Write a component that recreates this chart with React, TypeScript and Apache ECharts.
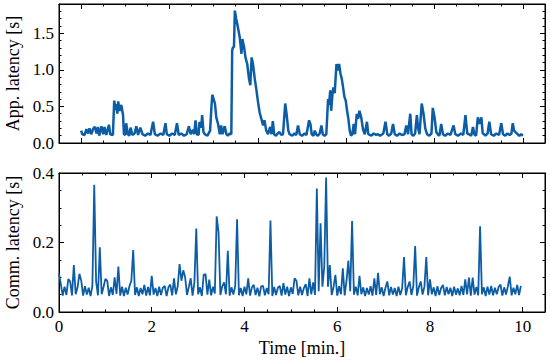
import React, { useEffect, useRef } from "react";
import * as echarts from "echarts";

// ---- Data: application latency (top panel, own time axis) ----
const APP_SERIES: [number, number][] = [
  [0.00,0.17],[0.03,0.12],[0.08,0.11],[0.12,0.19],[0.16,0.13],[0.19,0.20],[0.23,0.12],[0.27,0.19],[0.31,0.22],[0.35,0.13],
  [0.38,0.22],[0.41,0.10],[0.46,0.23],[0.50,0.12],[0.53,0.22],[0.57,0.11],[0.63,0.25],[0.66,0.12],[0.72,0.11],[0.75,0.58],
  [0.78,0.45],[0.80,0.53],[0.82,0.40],[0.84,0.57],[0.87,0.44],[0.91,0.52],[0.95,0.38],[0.97,0.12],[1.00,0.11],[1.02,0.27],
  [1.06,0.12],[1.09,0.10],[1.12,0.21],[1.16,0.11],[1.21,0.13],[1.25,0.23],[1.29,0.11],[1.34,0.21],[1.39,0.12],[1.45,0.10],
  [1.51,0.13],[1.57,0.11],[1.63,0.29],[1.67,0.12],[1.73,0.10],[1.80,0.13],[1.86,0.11],[1.91,0.27],[1.94,0.12],[2.00,0.10],
  [2.06,0.13],[2.12,0.11],[2.17,0.27],[2.21,0.11],[2.27,0.13],[2.33,0.10],[2.39,0.12],[2.44,0.23],[2.48,0.12],[2.53,0.18],
  [2.56,0.12],[2.59,0.31],[2.62,0.12],[2.66,0.11],[2.68,0.29],[2.72,0.21],[2.74,0.38],[2.77,0.15],[2.80,0.12],[2.86,0.10],
  [2.92,0.17],[2.95,0.49],[2.97,0.66],[3.00,0.60],[3.03,0.54],[3.06,0.35],[3.10,0.26],[3.14,0.12],[3.17,0.24],[3.20,0.12],
  [3.25,0.23],[3.29,0.12],[3.32,0.10],[3.36,0.13],[3.40,0.12],[3.42,1.27],[3.44,1.31],[3.46,1.31],[3.48,1.81],[3.51,1.70],
  [3.55,1.58],[3.59,1.45],[3.63,1.22],[3.65,1.42],[3.69,1.31],[3.72,1.17],[3.76,1.08],[3.80,0.88],[3.83,0.79],[3.86,1.17],
  [3.89,1.08],[3.93,0.88],[3.97,0.72],[4.00,0.58],[4.04,0.42],[4.08,0.33],[4.12,0.24],[4.15,0.31],[4.19,0.17],[4.23,0.12],
  [4.28,0.22],[4.31,0.12],[4.34,0.30],[4.37,0.12],[4.41,0.10],[4.45,0.13],[4.49,0.15],[4.53,0.11],[4.57,0.12],[4.62,0.54],
  [4.65,0.40],[4.69,0.17],[4.72,0.12],[4.78,0.10],[4.83,0.13],[4.87,0.11],[4.91,0.24],[4.95,0.12],[5.00,0.10],[5.06,0.13],
  [5.10,0.11],[5.16,0.31],[5.19,0.26],[5.22,0.12],[5.26,0.10],[5.29,0.17],[5.32,0.12],[5.36,0.10],[5.40,0.13],[5.44,0.24],
  [5.47,0.12],[5.51,0.10],[5.55,0.12],[5.59,0.60],[5.61,0.52],[5.64,0.72],[5.66,0.44],[5.69,0.67],[5.71,0.76],[5.74,0.68],
  [5.78,1.08],[5.81,0.99],[5.84,1.08],[5.87,0.95],[5.90,0.88],[5.93,0.76],[5.96,0.63],[5.99,0.58],[6.02,0.44],[6.05,0.33],
  [6.08,0.17],[6.11,0.10],[6.14,0.12],[6.17,0.26],[6.20,0.12],[6.24,0.40],[6.27,0.33],[6.30,0.44],[6.34,0.35],[6.38,0.19],
  [6.42,0.12],[6.47,0.29],[6.50,0.12],[6.57,0.10],[6.62,0.13],[6.68,0.11],[6.72,0.12],[6.77,0.10],[6.84,0.13],[6.89,0.29],
  [6.93,0.12],[6.97,0.10],[7.02,0.13],[7.06,0.26],[7.10,0.12],[7.15,0.10],[7.21,0.13],[7.26,0.11],[7.32,0.12],[7.36,0.24],
  [7.40,0.12],[7.45,0.40],[7.48,0.12],[7.52,0.10],[7.56,0.13],[7.60,0.38],[7.63,0.20],[7.66,0.12],[7.71,0.54],[7.75,0.40],
  [7.79,0.20],[7.83,0.12],[7.88,0.10],[7.93,0.13],[7.96,0.48],[8.00,0.35],[8.04,0.15],[8.07,0.12],[8.11,0.10],[8.15,0.26],
  [8.19,0.12],[8.24,0.10],[8.30,0.13],[8.36,0.11],[8.43,0.24],[8.47,0.12],[8.53,0.10],[8.60,0.13],[8.65,0.11],[8.70,0.38],
  [8.74,0.13],[8.78,0.12],[8.83,0.10],[8.87,0.22],[8.90,0.12],[8.94,0.10],[8.98,0.35],[9.02,0.26],[9.06,0.35],[9.09,0.13],
  [9.12,0.12],[9.15,0.10],[9.20,0.13],[9.24,0.29],[9.28,0.12],[9.34,0.10],[9.40,0.13],[9.46,0.11],[9.51,0.27],[9.55,0.12],
  [9.60,0.10],[9.65,0.13],[9.70,0.11],[9.74,0.13],[9.77,0.27],[9.80,0.17],[9.83,0.15],[9.88,0.12],[9.92,0.10],[9.96,0.12],
  [10.00,0.10],
];

// ---- Data: communication latency (bottom panel), sampled every COMM_STEP minutes ----
const COMM_STEP = 0.04;
const COMM_LATENCY = [
  0.110,0.080,0.047,0.073,0.049,0.095,0.088,0.048,0.135,0.051,
  0.071,0.110,0.090,0.047,0.074,0.050,0.070,0.046,0.075,0.366,
  0.088,0.048,0.186,0.051,0.072,0.095,0.090,0.046,0.071,0.049,
  0.100,0.052,0.131,0.047,0.073,0.046,0.070,0.050,0.075,0.090,
  0.178,0.049,0.071,0.046,0.069,0.051,0.078,0.047,0.072,0.048,
  0.104,0.050,0.069,0.046,0.073,0.049,0.070,0.075,0.046,0.071,
  0.079,0.048,0.097,0.051,0.074,0.138,0.090,0.120,0.100,0.049,
  0.072,0.097,0.047,0.085,0.240,0.051,0.071,0.046,0.107,0.109,
  0.050,0.093,0.048,0.073,0.053,0.275,0.230,0.049,0.074,0.085,
  0.051,0.176,0.047,0.071,0.050,0.075,0.267,0.048,0.069,0.046,
  0.073,0.051,0.097,0.047,0.071,0.078,0.049,0.070,0.045,0.074,
  0.075,0.048,0.069,0.051,0.263,0.046,0.072,0.049,0.070,0.075,
  0.047,0.083,0.050,0.073,0.046,0.071,0.052,0.097,0.090,0.048,
  0.073,0.049,0.069,0.080,0.046,0.097,0.051,0.085,0.049,0.355,
  0.060,0.255,0.073,0.131,0.387,0.073,0.135,0.049,0.072,0.107,
  0.047,0.074,0.051,0.126,0.048,0.090,0.148,0.060,0.262,0.050,
  0.073,0.048,0.104,0.051,0.071,0.046,0.069,0.050,0.074,0.047,
  0.097,0.049,0.113,0.051,0.071,0.046,0.070,0.088,0.048,0.072,
  0.050,0.069,0.046,0.073,0.049,0.068,0.158,0.048,0.072,0.088,
  0.049,0.074,0.190,0.047,0.071,0.088,0.050,0.073,0.158,0.048,
  0.094,0.051,0.071,0.046,0.074,0.049,0.069,0.078,0.048,0.072,
  0.051,0.070,0.046,0.073,0.050,0.068,0.048,0.075,0.049,0.094,
  0.051,0.099,0.047,0.099,0.050,0.072,0.048,0.247,0.051,0.071,
  0.046,0.073,0.050,0.075,0.048,0.070,0.051,0.072,0.079,0.047,
  0.071,0.050,0.074,0.102,0.048,0.070,0.051,0.078,0.049,0.075,
];

// ---- Ticks ----
const APP_X_MAJOR = [0, 2, 4, 6, 8, 10];
const APP_X_MINOR = [-0.5,0,0.5,1,1.5,2,2.5,3,3.5,4,4.5,5,5.5,6,6.5,7,7.5,8,8.5,9,9.5,10,10.5];
const COMM_X_MAJOR = [0, 2, 4, 6, 8, 10];
const COMM_X_MINOR = [0,0.5,1,1.5,2,2.5,3,3.5,4,4.5,5,5.5,6,6.5,7,7.5,8,8.5,9,9.5,10];
const APP_Y_MAJOR = [0, 0.5, 1.0, 1.5];
const APP_Y_MINOR = [0,0.1,0.2,0.3,0.4,0.5,0.6,0.7,0.8,0.9,1.0,1.1,1.2,1.3,1.4,1.5,1.6,1.7,1.8];
const COMM_Y_MAJOR = [0, 0.2, 0.4];
const COMM_Y_MINOR = [0,0.05,0.1,0.15,0.2,0.25,0.3,0.35,0.4];

const APP_X_RANGE = [-0.5, 10.5];
const COMM_X_RANGE = [0, 10.48];
const APP_Y_RANGE = [0, 1.9];
const COMM_Y_RANGE = [0, 0.4];

const BLUE = "#0C5DA5";
const FONT = "'Liberation Serif', 'DejaVu Serif', serif";

export default function App() {
  const ref = useRef<HTMLDivElement>(null);
  useEffect(() => {
    if (!ref.current) return;
    const chart = echarts.init(ref.current, undefined, { renderer: "svg" });

    const tickAxis = (
      gridIndex: number,
      position: string,
      range: number[],
      ticks: number[],
      len: number,
      major: boolean,
      extra: any = {}
    ) => ({
      type: "value",
      gridIndex,
      position,
      min: range[0],
      max: range[1],
      axisLine: { show: major, onZero: false, lineStyle: { color: "#000", width: 1 } },
      axisTick: {
        show: true,
        inside: true,
        length: len,
        customValues: ticks,
        lineStyle: { color: "#000", width: 1 },
      },
      axisLabel: { show: true, formatter: () => "", fontSize: 1 },
      splitLine: { show: false },
      ...extra,
    });

    const labelStyle = (values: number[], fmt: (v: number) => string, margin: number) => ({
      show: true,
      customValues: values,
      formatter: fmt,
      color: "#000",
      fontFamily: FONT,
      fontSize: 17,
      margin,
      showMinLabel: true,
      showMaxLabel: true,
    });

    const nameStyle = { color: "#000", fontFamily: FONT, fontSize: 18 };

    const xAxis = [
      tickAxis(0, "bottom", APP_X_RANGE, APP_X_MAJOR, 5, true),
      tickAxis(0, "top", APP_X_RANGE, APP_X_MAJOR, 5, true),
      tickAxis(0, "bottom", APP_X_RANGE, APP_X_MINOR, 2.5, false),
      tickAxis(0, "top", APP_X_RANGE, APP_X_MINOR, 2.5, false),
      tickAxis(1, "bottom", COMM_X_RANGE, COMM_X_MAJOR, 5, true, {
        axisLabel: labelStyle(COMM_X_MAJOR, (v: number) => String(Math.round(v)), 6),
        name: "Time [min.]",
        nameLocation: "middle",
        nameGap: 27,
        nameTextStyle: nameStyle,
      }),
      tickAxis(1, "top", COMM_X_RANGE, COMM_X_MAJOR, 5, true),
      tickAxis(1, "bottom", COMM_X_RANGE, COMM_X_MINOR, 2.5, false),
      tickAxis(1, "top", COMM_X_RANGE, COMM_X_MINOR, 2.5, false),
    ];

    const yAxis = [
      tickAxis(0, "left", APP_Y_RANGE, APP_Y_MAJOR, 5, true, {
        axisLabel: labelStyle(APP_Y_MAJOR, (v: number) => v.toFixed(1), 5),
        name: "App. latency [s]",
        nameLocation: "middle",
        nameGap: 35,
        nameTextStyle: nameStyle,
      }),
      tickAxis(0, "right", APP_Y_RANGE, APP_Y_MAJOR, 5, true),
      tickAxis(0, "left", APP_Y_RANGE, APP_Y_MINOR, 2.5, false),
      tickAxis(0, "right", APP_Y_RANGE, APP_Y_MINOR, 2.5, false),
      tickAxis(1, "left", COMM_Y_RANGE, COMM_Y_MAJOR, 5, true, {
        axisLabel: labelStyle(COMM_Y_MAJOR, (v: number) => v.toFixed(1), 5),
        name: "Comm. latency [s]",
        nameLocation: "middle",
        nameGap: 35,
        nameTextStyle: nameStyle,
      }),
      tickAxis(1, "right", COMM_Y_RANGE, COMM_Y_MAJOR, 5, true),
      tickAxis(1, "left", COMM_Y_RANGE, COMM_Y_MINOR, 2.5, false),
      tickAxis(1, "right", COMM_Y_RANGE, COMM_Y_MINOR, 2.5, false),
    ];

    const commData = COMM_LATENCY.map((v, i) => [i * COMM_STEP, v]);

    const gridBase = {
      left: 59,
      width: 486,
      height: 139,
      containLabel: false,
      outerBoundsMode: "none",
      show: true,
      borderColor: "#000",
      borderWidth: 1,
      backgroundColor: "rgba(0,0,0,0)",
    };

    chart.setOption({
      animation: false,
      grid: [
        { ...gridBase, top: 4 },
        { ...gridBase, top: 173 },
      ],
      xAxis,
      yAxis,
      series: [
        {
          type: "line",
          xAxisIndex: 0,
          yAxisIndex: 0,
          data: APP_SERIES,
          showSymbol: false,
          symbol: "none",
          lineStyle: { color: BLUE, width: 2.5 },
          clip: true,
        },
        {
          type: "line",
          xAxisIndex: 4,
          yAxisIndex: 4,
          data: commData,
          showSymbol: false,
          symbol: "none",
          lineStyle: { color: BLUE, width: 1.8 },
          clip: true,
        },
      ],
    });
    return () => chart.dispose();
  }, []);
  return (
    <div
      ref={ref}
      style={{ position: "fixed", left: 0, top: 0, width: 550, height: 362, background: "#fff" }}
    />
  );
}
